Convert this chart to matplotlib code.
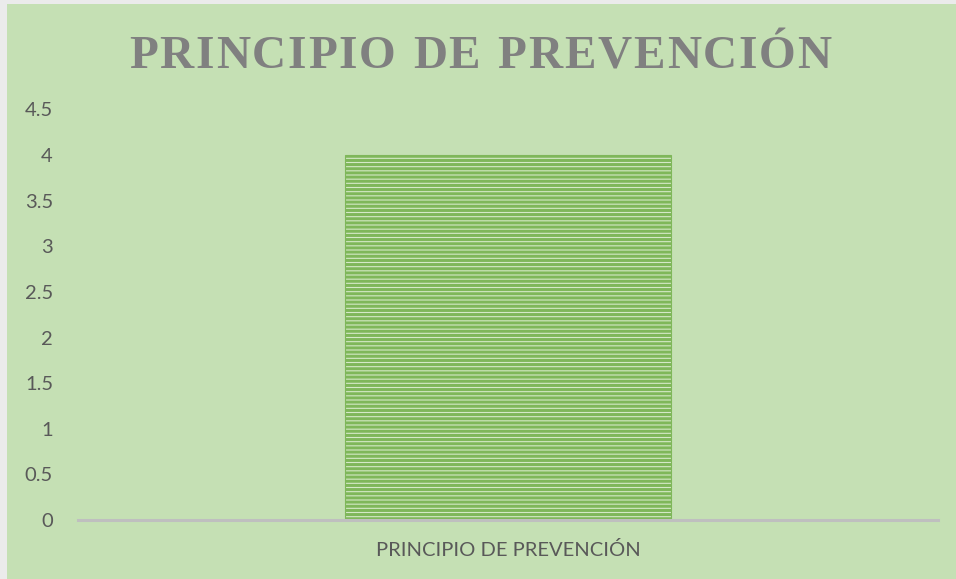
import matplotlib.pyplot as plt
from matplotlib.patches import Rectangle

categories = ["PRINCIPIO DE PREVENCIÓN"]
values = [4]
yticks = [0, 0.5, 1, 1.5, 2, 2.5, 3, 3.5, 4, 4.5]
title = "PRINCIPIO DE PREVENCIÓN"

W, H = 956, 579
bg = "#c5e0b4"

plt.rcParams["hatch.linewidth"] = 2.2
plt.rcParams["hatch.color"] = "#70ad47"

fig = plt.figure(figsize=(W / 100, H / 100), dpi=100, facecolor=bg)
# thin light strips on the left and top edge
fig.patches.append(Rectangle((0, 0), 7 / W, 1, transform=fig.transFigure,
                             facecolor="#ebebeb", edgecolor="none", zorder=-5))
fig.patches.append(Rectangle((0, 1 - 4 / H), 1, 4 / H, transform=fig.transFigure,
                             facecolor="#ebebeb", edgecolor="none", zorder=-5))

ax = fig.add_axes([78 / W, 1 - 520 / H, 860 / W, (520 - 109.4) / H])
ax.set_facecolor("none")

x = list(range(len(categories)))
ax.bar(x, values, width=0.379, color="#d5e9c8", edgecolor="#7fb75a", linewidth=0.8,
       hatch="----", zorder=2)

ax.set_xlim(-0.5, 0.5)
ax.set_ylim(0, 4.5)
ax.set_yticks(yticks)
ax.set_yticklabels([f"{t:g}" for t in yticks])
ax.set_xticks(x)
ax.set_xticklabels(categories)

for s in ["top", "right", "left"]:
    ax.spines[s].set_visible(False)
ax.spines["bottom"].set_color("#bfbfbf")
ax.spines["bottom"].set_linewidth(2.2)
ax.spines["bottom"].set_zorder(3)

ax.tick_params(axis="y", length=0, pad=18, labelsize=14.5, labelcolor="#595959")
ax.tick_params(axis="x", length=0, pad=15, labelsize=14.5, labelcolor="#595959")
for lab in ax.get_yticklabels() + ax.get_xticklabels():
    lab.set_fontfamily("Lato")

# title with letter spacing, placed char by char
renderer = fig.canvas.get_renderer()
tkw = dict(fontsize=34, fontweight="bold", color="#808080", family="Liberation Serif",
           va="baseline", ha="left")
widths = []
for ch in title:
    t = fig.text(0, 0, ch if ch != " " else "I", **tkw)
    w = t.get_window_extent(renderer).width
    if ch == " ":
        w *= 0.75
    widths.append(w)
    t.remove()
gap = 1.8
total = sum(widths) + gap * (len(title) - 1)
xpos = 480 - total / 2
for ch, w in zip(title, widths):
    if ch != " ":
        fig.text(xpos / W, 1 - 68 / H, ch, **tkw)
    xpos += w + gap

fig.savefig("out.png", dpi=100, facecolor=fig.get_facecolor())
